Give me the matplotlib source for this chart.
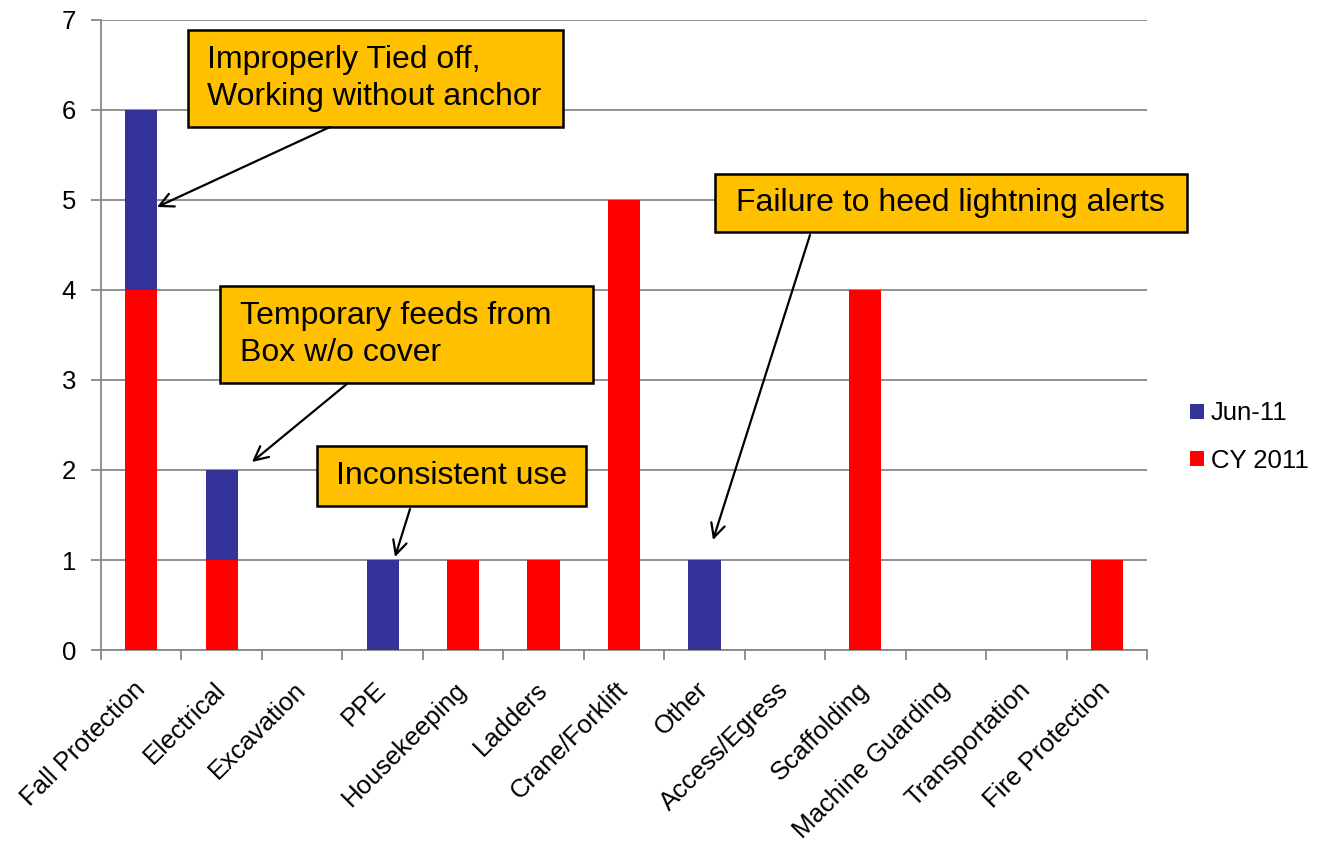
import numpy as np
import matplotlib.pyplot as plt
from matplotlib.patches import Rectangle

plt.rcParams['font.family'] = ['Liberation Sans', 'DejaVu Sans']

categories = ['Fall Protection', 'Electrical', 'Excavation', 'PPE', 'Housekeeping',
              'Ladders', 'Crane/Forklift', 'Other', 'Access/Egress', 'Scaffolding',
              'Machine Guarding', 'Transportation', 'Fire Protection']
cy2011 = [4, 1, 0, 0, 1, 1, 5, 0, 0, 4, 0, 0, 1]
jun11 = [2, 1, 0, 1, 0, 0, 0, 1, 0, 0, 0, 0, 0]

W, H = 1326, 843
fig = plt.figure(figsize=(W / 100, H / 100), dpi=100)
ax = fig.add_axes([101 / W, 1 - 650 / H, (1147 - 101) / W, (650 - 20) / H])

x = np.arange(len(categories))
red = '#FF0000'
blue = '#333399'
grid_c = '#888888'

ax.bar(x, cy2011, width=0.4, color=red, label='CY 2011', zorder=3)
ax.bar(x, jun11, width=0.4, bottom=cy2011, color=blue, label='Jun-11', zorder=3)

ax.set_xlim(-0.5, len(categories) - 0.5)
ax.set_ylim(0, 7)
ax.set_yticks(range(8))
ax.yaxis.grid(True, color=grid_c, lw=1.3, zorder=0)
ax.set_axisbelow(True)

ax.set_xticks(np.arange(-0.5, len(categories)), labels=[])
ax.set_xticks(x, labels=categories, minor=True)
ax.tick_params(axis='x', which='major', length=7, width=1.3, color=grid_c, direction='out')
ax.tick_params(axis='x', which='minor', length=0, pad=26, labelsize=18.5)
ax.tick_params(axis='y', length=7, width=1.3, color=grid_c, labelsize=18.5, pad=11)
for lbl in ax.get_xticklabels(minor=True):
    lbl.set_rotation(45)
    lbl.set_ha('right')
    lbl.set_rotation_mode('anchor')
    lbl.set_va('center')

for s in ['top', 'right']:
    ax.spines[s].set_visible(False)
for s in ['left', 'bottom']:
    ax.spines[s].set_color(grid_c)
    ax.spines[s].set_linewidth(1.3)

h, l = ax.get_legend_handles_labels()
ax.legend(h[::-1], l[::-1], loc='center left', bbox_to_anchor=(1167 / W, 1 - 437 / H),
          bbox_transform=fig.transFigure, frameon=False, fontsize=18.5,
          handlelength=0.55, handleheight=0.55, handletextpad=0.25, labelspacing=0.9)


def px(xp, yp):
    # figure pixel -> data coords
    return ax.transData.inverted().transform(fig.transFigure.transform((xp / W, 1 - yp / H)))


callouts = [
    ('Improperly Tied off,\nWorking without anchor', (188, 30, 563, 127), 207, (330, 127), (157, 207)),
    ('Temporary feeds from\nBox w/o cover', (220, 286, 593, 383), 240, (348, 383), (252, 462)),
    ('Inconsistent use', (317, 446, 586, 506), 336, (410, 509), (395, 557)),
    ('Failure to heed lightning alerts', (715, 174, 1187, 232), 736, (810, 235), (713, 540)),
]
for text, (x0, y0, x1, y1), tx, start, tip in callouts:
    a = px(x0, y1)
    b = px(x1, y0)
    ax.add_patch(Rectangle(a, b[0] - a[0], b[1] - a[1], facecolor='#FFC000',
                           edgecolor='black', lw=1.8, zorder=5, clip_on=False))
    ax.text(*px(tx, (y0 + y1) / 2), text, ha='left', va='center', fontsize=23,
            zorder=6, linespacing=1.3, clip_on=False)
    ax.annotate('', xy=px(*tip), xytext=px(*start),
                arrowprops=dict(arrowstyle='->', lw=1.6, color='black', mutation_scale=25,
                                shrinkA=0, shrinkB=0), zorder=6, annotation_clip=False)

fig.savefig('out.png', dpi=100)
